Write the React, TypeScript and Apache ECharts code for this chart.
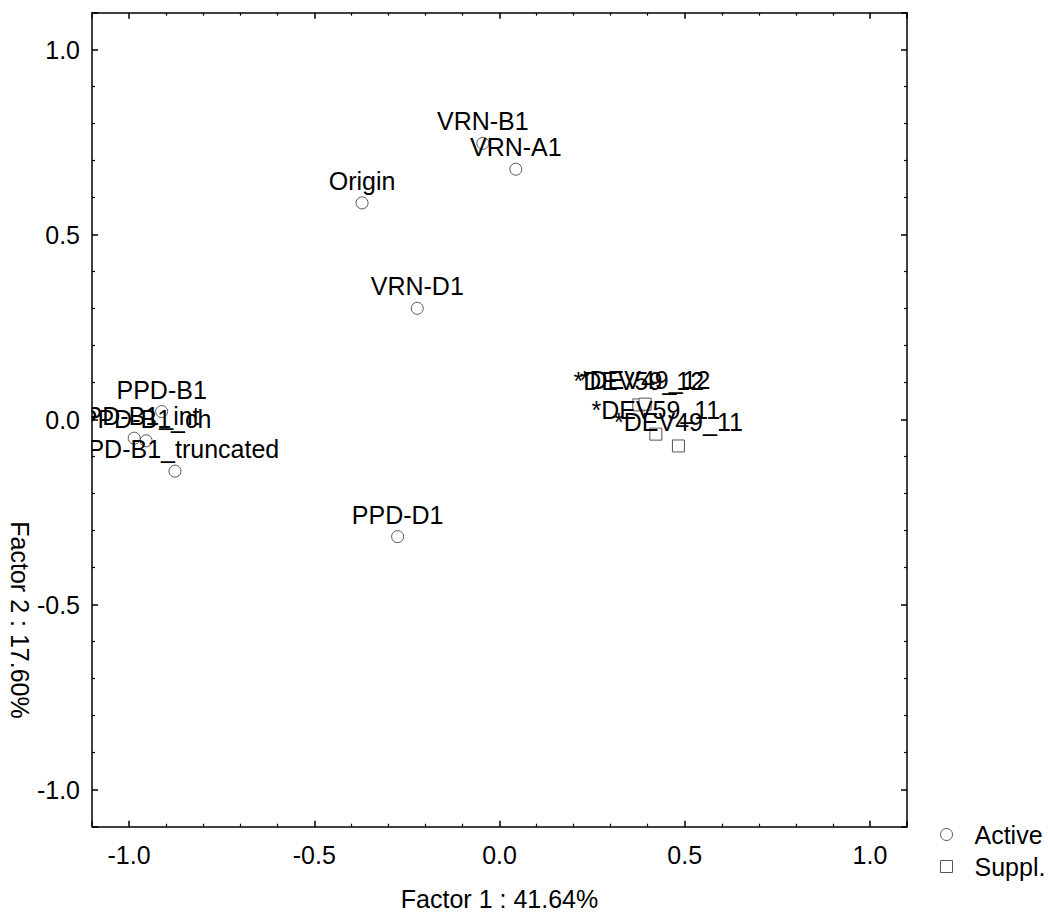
import React, { useEffect, useRef } from "react";
import * as echarts from "echarts";

// ---- data ----
const activeNames = [
  "VRN-B1",
  "VRN-A1",
  "Origin",
  "VRN-D1",
  "PPD-D1",
  "PPD-B1",
  "PPD-B1_int",
  "PPD-B1_ch",
  "PPD-B1_truncated",
];
const activeX = [-0.045, 0.044, -0.371, -0.222, -0.275, -0.912, -0.986, -0.954, -0.876];
const activeY = [0.747, 0.677, 0.586, 0.301, -0.316, 0.022, -0.05, -0.057, -0.139];

const supplNames = ["*DEV59_12", "*DEV49_12", "*DEV59_11", "*DEV49_11"];
const supplX = [0.376, 0.393, 0.422, 0.483];
const supplY = [0.04, 0.042, -0.039, -0.071];

const tickValues = [-1.0, -0.5, 0.0, 0.5, 1.0];
const tickLabels = ["-1.0", "-0.5", "0.0", "0.5", "1.0"];

const xTitle = "Factor 1 : 41.64%";
const yTitle = "Factor 2 : 17.60%";
const legendNames = ["Active", "Suppl."];

const FONT = "'Liberation Sans', Arial, Helvetica, sans-serif";
const FS = 25;

function fmt(v: number) {
  const i = tickValues.findIndex((t) => Math.abs(t - v) < 1e-6);
  return i >= 0 ? tickLabels[i] : "";
}

function axisBase(showLabel: boolean) {
  return {
    type: "value" as const,
    min: -1.1,
    max: 1.1,
    minInterval: 0.5,
    maxInterval: 0.5,
    splitNumber: 4,
    axisLine: { show: true, onZero: false, lineStyle: { color: "#000", width: 1.5 } },
    axisTick: { show: true, inside: true, length: 6, lineStyle: { color: "#000", width: 1.5 } },
    minorTick: { show: true, splitNumber: 5, length: 3, lineStyle: { color: "#000", width: 1.2 } },
    splitLine: { show: false },
    minorSplitLine: { show: false },
    axisLabel: {
      show: showLabel,
      showMinLabel: false,
      showMaxLabel: false,
      formatter: (v: number) => fmt(v),
      fontSize: FS,
      fontFamily: FONT,
      color: "#000",
    },
  };
}

export default function App() {
  const ref = useRef<HTMLDivElement>(null);
  useEffect(() => {
    document.body.style.margin = "0";
    document.body.style.overflow = "hidden";
    if (!ref.current) return;
    const chart = echarts.init(ref.current, undefined, { renderer: "svg" });
    const option: any = {
      animation: false,
      backgroundColor: "#fff",
      grid: {
        left: 92,
        right: 141,
        top: 12.7,
        bottom: 85.3,
        containLabel: false,
        outerBoundsMode: "none",
      },
      xAxis: [
        {
          ...axisBase(true),
          position: "bottom",
          axisLabel: { ...axisBase(true).axisLabel, margin: 16 },
          name: xTitle,
          nameLocation: "middle",
          nameGap: 60,
          nameTextStyle: { fontSize: FS, fontFamily: FONT, color: "#000" },
        },
        { ...axisBase(false), position: "top" },
      ],
      yAxis: [
        {
          ...axisBase(true),
          position: "left",
          z: 10,
          axisLabel: { ...axisBase(true).axisLabel, margin: 12 },
        },
        { ...axisBase(false), position: "right" },
      ],
      legend: {
        orient: "vertical",
        left: 935,
        top: 817,
        itemWidth: 12,
        itemHeight: 12,
        itemGap: 7,
        selectedMode: false,
        data: [
          { name: legendNames[0], icon: "circle" },
          { name: legendNames[1], icon: "rect" },
        ],
        itemStyle: { borderWidth: 1 },
        textStyle: { fontSize: FS, fontFamily: FONT, color: "#000", padding: [0, 0, 0, 17] },
      },
      series: [
        {
          type: "scatter",
          name: legendNames[0],
          xAxisIndex: 0,
          yAxisIndex: 0,
          symbol: "circle",
          symbolSize: 12,
          clip: false,
          itemStyle: { color: "#fff", borderColor: "#555", borderWidth: 1, opacity: 1 },
          label: {
            show: true,
            position: "top",
            distance: 3,
            formatter: "{b}",
            fontSize: FS,
            fontFamily: FONT,
            color: "#000",
          },
          emphasis: { disabled: true },
          data: activeNames.map((n, i) => ({ name: n, value: [activeX[i], activeY[i]] })),
        },
        {
          type: "scatter",
          name: legendNames[1],
          xAxisIndex: 0,
          yAxisIndex: 0,
          symbol: "rect",
          symbolSize: 12,
          clip: false,
          itemStyle: { color: "#fff", borderColor: "#555", borderWidth: 1, opacity: 1 },
          label: {
            show: true,
            position: "top",
            distance: 5,
            formatter: "{b}",
            fontSize: FS,
            fontFamily: FONT,
            color: "#000",
          },
          emphasis: { disabled: true },
          data: supplNames.map((n, i) => ({ name: n, value: [supplX[i], supplY[i]] })),
        },
      ],
      graphic: [
        {
          type: "rect",
          silent: true,
          z: 3,
          shape: { x: 0, y: 0, width: 91.5, height: 912 },
          style: { fill: "#fff" },
        },
        {
          type: "text",
          silent: true,
          z: 12,
          x: 20,
          y: 620,
          rotation: -Math.PI / 2,
          style: {
            text: yTitle,
            font: `${FS}px ${FONT}`,
            fill: "#000",
            align: "center",
            verticalAlign: "middle",
          },
        },
      ],
    };
    chart.setOption(option);
    return () => chart.dispose();
  }, []);
  return (
    <div
      ref={ref}
      style={{ position: "fixed", left: 0, top: 0, width: 1048, height: 912 }}
    />
  );
}
